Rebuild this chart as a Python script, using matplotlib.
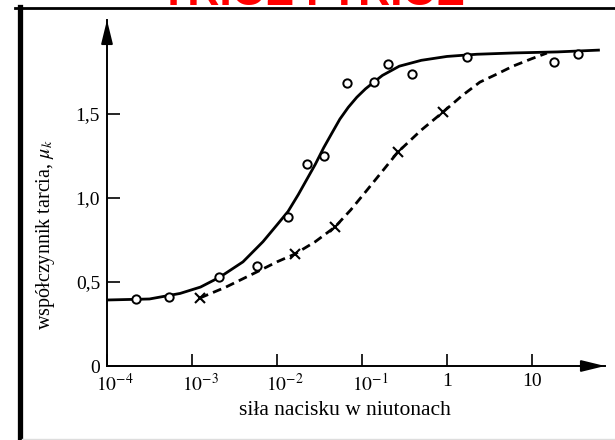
import matplotlib
matplotlib.use("Agg")
import matplotlib.pyplot as plt
import matplotlib.transforms as mtransforms
from matplotlib.lines import Line2D

# measured points (force in N, friction coefficient)
circ_x = [2.2e-4, 5.4e-4, 2.1e-3, 5.8e-3, 1.35e-2, 2.25e-2, 3.55e-2,
          6.6e-2, 0.138, 0.204, 0.39, 1.72, 18.2, 34.7]
circ_y = [0.40, 0.41, 0.53, 0.595, 0.885, 1.20, 1.25,
          1.685, 1.69, 1.80, 1.74, 1.84, 1.81, 1.855]

cross_x = [1.24e-3, 1.63e-2, 4.8e-2, 0.265, 0.90]
cross_y = [0.405, 0.667, 0.827, 1.274, 1.512]

# curves
solid_x = [1e-4, 3.16e-4, 7.24e-4, 1.26e-3, 2.14e-3, 3.98e-3, 6.84e-3, 1e-2,
           1.35e-2, 1.78e-2, 2.24e-2, 2.82e-2, 3.55e-2, 4.47e-2, 5.5e-2,
           6.9e-2, 8.7e-2, 0.11, 0.138, 0.174, 0.275, 0.5, 1.0, 2.24, 6.3,
           20, 63]
solid_y = [0.393, 0.399, 0.432, 0.47, 0.53, 0.62, 0.74, 0.84,
           0.92, 1.02, 1.11, 1.20, 1.30, 1.39, 1.47,
           1.54, 1.60, 1.65, 1.69, 1.73, 1.785, 1.82, 1.843, 1.856, 1.864,
           1.870, 1.881]

dash_x = [1.24e-3, 2.51e-3, 5.8e-3, 1e-2, 1.63e-2, 2.82e-2, 4.8e-2, 7.4e-2,
          0.115, 0.174, 0.265, 0.5, 0.90, 1.51, 2.44, 3.87, 5.97, 10, 15.0]
dash_y = [0.405, 0.47, 0.56, 0.62, 0.667, 0.74, 0.827, 0.93,
          1.048, 1.16, 1.274, 1.405, 1.512, 1.61, 1.690, 1.738, 1.785, 1.83,
          1.863]

xticks = [1e-4, 1e-3, 1e-2, 1e-1, 1, 10]
xlabels = [r"$10^{-4}$", r"$10^{-3}$", r"$10^{-2}$", r"$10^{-1}$", "1", "10"]
yticks = [0, 0.5, 1.0, 1.5]
ylabels = ["0", "0,5", "1,0", "1,5"]

plt.rcParams["font.family"] = ["Liberation Serif", "DejaVu Serif"]
plt.rcParams["mathtext.fontset"] = "stix"

W, H = 615, 440
fig = plt.figure(figsize=(W / 100, H / 100), dpi=100)
ax = fig.add_axes([107 / W, 74 / H, 498 / W, 346 / H])

ax.plot(solid_x, solid_y, c="k", lw=2.0, solid_capstyle="butt")
ax.plot(dash_x, dash_y, c="k", lw=2.0, ls=(0, (3.2, 1.9)))
ax.plot(circ_x, circ_y, ls="none", marker="o", ms=6, mfc="white",
        mec="k", mew=1.4)
ax.plot(cross_x, cross_y, ls="none", marker="x", ms=6.5, mec="k", mew=1.5)

ax.set_xscale("log")
ax.set_xlim(1e-4, 10 ** 1.86)
ax.set_ylim(0, 2.06)
ax.set_xticks(xticks)
ax.set_xticklabels(xlabels, fontsize=14)
ax.set_yticks(yticks)
ax.set_yticklabels(ylabels, fontsize=14)
ax.minorticks_off()
ax.tick_params(direction="in", length=9, width=1.2, pad=5)

# the "10" of the power labels sits on the tick, exponent to the right
shift = mtransforms.ScaledTranslation(0.08, 0, fig.dpi_scale_trans)
for lab in ax.get_xticklabels()[:4]:
    lab.set_transform(lab.get_transform() + shift)

for s in ["top", "right"]:
    ax.spines[s].set_visible(False)
for s in ["left", "bottom"]:
    ax.spines[s].set_linewidth(1.4)

# axis arrows
arr = dict(arrowstyle="-|>,head_length=0.9,head_width=0.22", color="k",
           lw=1.4, shrinkA=0, shrinkB=0, mutation_scale=16)
ax.annotate("", xy=(1, 0), xytext=(0.95, 0), xycoords="axes fraction",
            arrowprops=arr)
ax.annotate("", xy=(0, 1), xytext=(0, 0.93), xycoords="axes fraction",
            arrowprops=arr)

fig.text(345 / W, 1 - 410 / H, "siła nacisku w niutonach", fontsize=15.5,
         ha="center", va="center")
fig.text(46 / W, 1 - 235 / H, r"współczynnik tarcia, $\mu_k$", fontsize=14.5,
         rotation=90, ha="center", va="center")

# scan frame and cut-off red heading
fig.add_artist(Line2D([15 / W, 1], [1 - 8 / H, 1 - 8 / H], color="k", lw=2))
fig.add_artist(Line2D([19.5 / W, 19.5 / W], [0, 1 - 7 / H], color="k", lw=3.8))
fig.add_artist(Line2D([22 / W, 1], [1.5 / H, 1.5 / H], color="#dddddd", lw=1))
fig.text(312 / W, 1 - 5 / H, "TRIOZ I TRIOZ", color="red", fontsize=32,
         fontweight="bold", family="Liberation Sans", ha="center",
         va="baseline")

fig.savefig("out.png", dpi=100)
